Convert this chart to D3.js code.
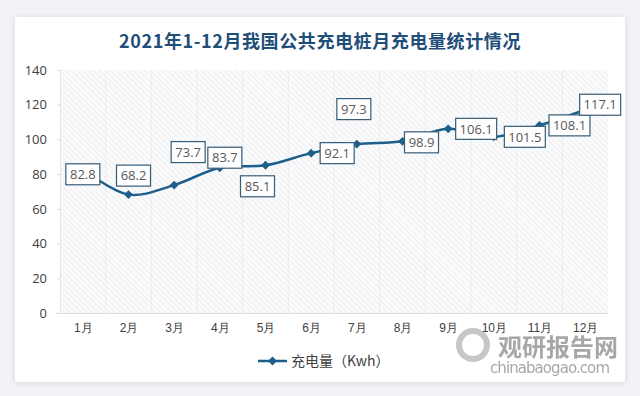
<!DOCTYPE html>
<html>
<head>
<meta charset="utf-8">
<title>2021年1-12月我国公共充电桩月充电量统计情况</title>
<script src="https://d3js.org/d3.v7.min.js"></script>
<style>
  body { margin: 0; background: #f1f3f6; }
  svg { display: block; font-family: "Noto Sans CJK SC", "Noto Sans", sans-serif; }
</style>
</head>
<body>
<svg width="640" height="396"></svg>
<script>
// 数据
var months = ["1月","2月","3月","4月","5月","6月","7月","8月","9月","10月","11月","12月"];
var values = [82.8, 68.2, 73.7, 83.7, 85.1, 92.1, 97.3, 98.9, 106.1, 101.5, 108.1, 117.1];
var yTicks = [0, 20, 40, 60, 80, 100, 120, 140];
var seriesName = "充电量（Kwh）";
var title = "2021年1-12月我国公共充电桩月充电量统计情况";

// 数据标签相对数据点的偏移（像素）
var labelOffset = [[0,5],[5,-19],[14,-33],[5,-10],[-8,21],[26,0],[-3,-35],[19,1],[28,0],[31,0],[30,0],[15,-5]];

var svg = d3.select("svg");
var mainColor = "#1c5f8b";

// 阴影
var defs = svg.append("defs");
var f = defs.append("filter").attr("id", "shadow").attr("x", "-5%").attr("y", "-5%").attr("width", "110%").attr("height", "110%");
f.append("feDropShadow").attr("dx", 0).attr("dy", 1).attr("stdDeviation", 3).attr("flood-color", "#000").attr("flood-opacity", 0.12);

// 斜线纹理
var pat = defs.append("pattern").attr("id", "hatch").attr("patternUnits", "userSpaceOnUse")
  .attr("width", 4).attr("height", 4).attr("patternTransform", "rotate(-45)");
pat.append("rect").attr("width", 4).attr("height", 4).attr("fill", "#fbfbfc");
pat.append("line").attr("x1", 0).attr("y1", 0).attr("x2", 0).attr("y2", 4)
  .attr("stroke", "#e9ebef").attr("stroke-width", 1.6);

// 卡片
svg.append("rect").attr("x", 15).attr("y", 17).attr("width", 610).attr("height", 365)
  .attr("fill", "#fff").attr("filter", "url(#shadow)");

var margin = {left: 60, right: 32, top: 70, bottom: 83};
var W = 640, H = 396;
var x = d3.scalePoint().domain(months).range([margin.left, W - margin.right]).padding(0.5);
var xb = d3.scaleBand().domain(months).range([margin.left, W - margin.right]);
var y = d3.scaleLinear().domain([0, 140]).range([H - margin.bottom, margin.top]);

// 标题
svg.append("text").attr("x", 320).attr("y", 48).attr("text-anchor", "middle")
  .attr("font-size", 18).attr("font-weight", "bold").attr("fill", "#1f4e79")
  .attr("letter-spacing", 0.6)
  .text(title);

// 绘图区
svg.append("rect").attr("x", margin.left).attr("y", y(140))
  .attr("width", W - margin.right - margin.left).attr("height", y(0) - y(140))
  .attr("fill", "url(#hatch)");

// 竖向分隔线
svg.append("g").selectAll("line").data(months.slice(1)).join("line")
  .attr("x1", function(d) { return xb(d); }).attr("x2", function(d) { return xb(d); })
  .attr("y1", y(140)).attr("y2", y(0))
  .attr("stroke", "#e9ebef").attr("stroke-width", 1);

// y 轴
var yAxis = svg.append("g").attr("transform", "translate(" + margin.left + ",0)")
  .call(d3.axisLeft(y).tickValues(yTicks).tickSize(3).tickPadding(10));
yAxis.select(".domain").attr("stroke", "#e3e5e8");
yAxis.selectAll(".tick line").attr("stroke", "#d6d8dc");
yAxis.selectAll("text").attr("font-size", 13).attr("fill", "#404040")
  .attr("font-family", "Open Sans, sans-serif");

// x 轴
var xAxis = svg.append("g").attr("transform", "translate(0," + y(0) + ")")
  .call(d3.axisBottom(x).tickSize(0).tickPadding(10));
xAxis.select(".domain").attr("stroke", "#dcdee2").attr("d", "M" + (margin.left - 4) + ",0.5H" + (W - margin.right));
xAxis.selectAll("text").attr("font-size", 12).attr("fill", "#404040");

// 折线
var line = d3.line()
  .x(function(d, i) { return x(months[i]); })
  .y(function(d) { return y(d); })
  .curve(d3.curveCatmullRom.alpha(0.5));

svg.append("path").datum(values)
  .attr("d", line).attr("fill", "none")
  .attr("stroke", mainColor).attr("stroke-width", 2.5);

// 标记
var diamond = d3.symbol().type(d3.symbolDiamond2).size(50);
svg.append("g").selectAll("path").data(values).join("path")
  .attr("d", diamond)
  .attr("transform", function(d, i) { return "translate(" + x(months[i]) + "," + y(d) + ")"; })
  .attr("fill", mainColor);

// 数据标签
var lbl = svg.append("g").selectAll("g").data(values).join("g")
  .attr("transform", function(d, i) {
    return "translate(" + (x(months[i]) + labelOffset[i][0]) + "," + (y(d) + labelOffset[i][1]) + ")";
  });
lbl.append("rect")
  .attr("x", function(d) { return d >= 100 ? -20.5 : -17; })
  .attr("width", function(d) { return d >= 100 ? 41 : 34; })
  .attr("y", -10.5).attr("height", 21)
  .attr("fill", "#fff").attr("stroke", "#365c78").attr("stroke-width", 1.2);
lbl.append("text").attr("text-anchor", "middle").attr("dy", "0.36em")
  .attr("font-size", 13).attr("fill", "#595959")
  .attr("font-family", "Open Sans, sans-serif")
  .text(function(d) { return d.toFixed(1); });

// 图例
var lg = svg.append("g").attr("transform", "translate(258,361)");
lg.append("line").attr("x1", 0).attr("x2", 29).attr("stroke", mainColor).attr("stroke-width", 2.5);
lg.append("path").attr("d", diamond).attr("transform", "translate(14.5,0)").attr("fill", mainColor);
lg.append("text").attr("x", 33).attr("dy", "0.36em").attr("font-size", 14).attr("fill", "#404040")
  .text(seriesName);

// 水印
var wm = svg.append("g").attr("opacity", 0.75);
wm.append("circle").attr("cx", 473).attr("cy", 345).attr("r", 14)
  .attr("fill", "none").attr("stroke", "#b5b5b5").attr("stroke-width", 6);
wm.append("text").attr("x", 498).attr("y", 356).attr("font-size", 24).attr("font-weight", "bold")
  .attr("fill", "#8a8a8a").text("观研报告网");
wm.append("text").attr("x", 490).attr("y", 373).attr("font-size", 15)
  .attr("font-family", "DejaVu Sans, sans-serif")
  .attr("fill", "#8a8a8a").attr("textLength", 120).text("chinabaogao.com");
</script>
</body>
</html>
